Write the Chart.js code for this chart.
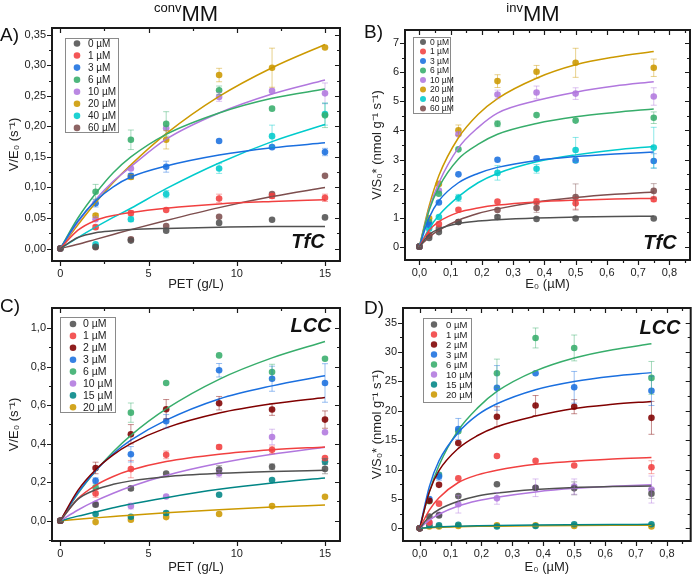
<!DOCTYPE html>
<html>
<head>
<meta charset="UTF-8">
<title>convMM / invMM</title>
<script src="https://cdn.jsdelivr.net/npm/chart.js@4.4.0/dist/chart.umd.min.js"></script>
<style>
  body { margin: 0; background: #fff; font-family: "Liberation Sans", Arial, sans-serif; }
  #wrap { position: relative; width: 694px; height: 575px; overflow: hidden; }
  canvas { position: absolute; }
  .lbl { position: absolute; color: #111; white-space: nowrap; line-height: 1; }
  .pan { font-size: 19px; }
  .ttl { font-size: 22px; transform: translateX(-50%); }
  .ttl sup { font-size: 13px; vertical-align: 9px; }
  .enz { font-size: 20px; font-weight: bold; font-style: italic; transform: translate(-50%, -50%); }
</style>
</head>
<body>
<div id="wrap">
  <canvas id="cA" width="344" height="292" style="left:3px;top:0px"></canvas>
  <canvas id="cB" width="328" height="292" style="left:366px;top:0px"></canvas>
  <canvas id="cC" width="344" height="285" style="left:3px;top:290px"></canvas>
  <canvas id="cD" width="328" height="285" style="left:366px;top:290px"></canvas>

  <div class="lbl ttl" style="left:186px;top:1px"><sup>conv</sup>MM</div>
  <div class="lbl ttl" style="left:533px;top:1px"><sup>inv</sup>MM</div>
  <div class="lbl pan" style="left:0px;top:25px">A)</div>
  <div class="lbl pan" style="left:364px;top:22px">B)</div>
  <div class="lbl pan" style="left:0px;top:296px">C)</div>
  <div class="lbl pan" style="left:364px;top:298px">D)</div>
  <div class="lbl enz" style="left:308px;top:241px">TfC</div>
  <div class="lbl enz" style="left:660px;top:242px">TfC</div>
  <div class="lbl enz" style="left:311px;top:325px">LCC</div>
  <div class="lbl enz" style="left:660px;top:327px">LCC</div>
</div>

<script>
// ---------- panel A : convMM, TfC ----------
const xA = [0, 2, 4, 6, 9, 12, 15];
const xFitA = [0, 1, 2, 3, 4, 6, 9, 12, 15];
const namesA = ['0 µM', '1 µM', '3 µM', '6 µM', '10 µM', '20 µM', '40 µM', '60 µM'];
const A_0 = [0, 0.003, 0.013, 0.029, 0.042, 0.047, 0.051];
const A_1 = [0, 0.035, 0.058, 0.063, 0.082, 0.086, 0.083];
const A_3 = [0, 0.074, 0.119, 0.134, 0.176, 0.166, 0.158];
const A_6 = [0, 0.093, 0.178, 0.204, 0.259, 0.229, 0.218];
const A_10 = [0, 0.048, 0.131, 0.197, 0.248, 0.258, 0.254];
const A_20 = [0, 0.054, 0.117, 0.178, 0.284, 0.296, 0.329];
const A_40 = [0, 0.007, 0.048, 0.089, 0.131, 0.184, 0.220];
const A_60 = [0, 0.002, 0.015, 0.037, 0.052, 0.089, 0.119];
const errA_0 = [0, 0, 0, 0, 0, 0, 0];
const errA_1 = [0, 0.003, 0.004, 0, 0.007, 0.004, 0.006];
const errA_3 = [0, 0.006, 0.004, 0.009, 0, 0, 0.006];
const errA_6 = [0, 0.012, 0.016, 0.02, 0.007, 0, 0.02];
const errA_10 = [0, 0, 0, 0, 0.007, 0, 0.017];
const errA_20 = [0, 0.003, 0.004, 0.015, 0.011, 0.032, 0];
const errA_40 = [0, 0, 0.004, 0.006, 0.008, 0.018, 0.018];
const errA_60 = [0, 0, 0.003, 0, 0, 0, 0];
const fitA_0 = [0, 0.018, 0.026, 0.029, 0.031, 0.033, 0.035, 0.036, 0.036];
const fitA_1 = [0, 0.030, 0.046, 0.054, 0.059, 0.066, 0.073, 0.077, 0.080];
const fitA_3 = [0, 0.045, 0.078, 0.101, 0.117, 0.135, 0.153, 0.165, 0.173];
const fitA_6 = [0, 0.050, 0.090, 0.124, 0.150, 0.187, 0.222, 0.246, 0.261];
const fitA_10 = [0, 0.043, 0.080, 0.110, 0.134, 0.179, 0.222, 0.253, 0.276];
const fitA_20 = [0, 0.039, 0.075, 0.108, 0.137, 0.188, 0.249, 0.296, 0.334];
const fitA_40 = [0, 0.018, 0.035, 0.051, 0.066, 0.098, 0.140, 0.175, 0.203];
const fitA_60 = [0, 0.007, 0.015, 0.023, 0.031, 0.046, 0.067, 0.085, 0.100];

// ---------- panel B : invMM, TfC ----------
const xB = [0, 0.03125, 0.0625, 0.125, 0.25, 0.375, 0.5, 0.75];
const xFitB = [0, 0.03125, 0.0625, 0.125, 0.1875, 0.25, 0.375, 0.5, 0.625, 0.75];
const B_0 = [0, 0.30, 0.50, 0.85, 1.02, 0.95, 0.97, 0.97];
const B_1 = [0, 0.40, 0.78, 1.27, 1.55, 1.55, 1.49, 1.63];
const B_3 = [0, 0.75, 1.52, 2.49, 2.99, 3.04, 2.97, 2.95];
const B_6 = [0, 0.85, 1.82, 3.35, 4.23, 4.53, 4.34, 4.44];
const B_10 = [0, 0.79, 1.93, 3.87, 5.24, 5.31, 5.27, 5.17];
const B_20 = [0, 0.98, 2.16, 4.01, 5.70, 6.02, 6.33, 6.16];
const B_40 = [0, 0.62, 1.02, 1.68, 2.54, 2.68, 3.33, 3.41];
const B_60 = [0, 0.38, 0.62, 0.85, 1.26, 1.33, 1.71, 1.92];
const errB_0 = [0, 0, 0, 0, 0.05, 0, 0, 0];
const errB_1 = [0, 0, 0, 0, 0, 0.1, 0.2, 0.08];
const errB_3 = [0, 0, 0, 0, 0, 0, 0, 0.25];
const errB_6 = [0, 0, 0, 0, 0.1, 0, 0, 0.2];
const errB_10 = [0, 0, 0, 0, 0.15, 0.22, 0.2, 0.3];
const errB_20 = [0, 0, 0, 0.18, 0.22, 0.22, 0.5, 0.3];
const errB_40 = [0, 0, 0, 0.12, 0.25, 0.15, 0.43, 0.7];
const errB_60 = [0, 0, 0, 0, 0, 0.15, 0.45, 0.25];
const fitB_0 = [0, 0.42, 0.61, 0.80, 0.88, 0.93, 0.99, 1.02, 1.04, 1.05];
const fitB_1 = [0, 0.56, 0.86, 1.18, 1.33, 1.43, 1.54, 1.60, 1.64, 1.66];
const fitB_3 = [0, 1.00, 1.58, 2.20, 2.52, 2.73, 2.97, 3.10, 3.19, 3.26];
const fitB_6 = [0, 1.25, 2.05, 3.02, 3.52, 3.87, 4.24, 4.47, 4.62, 4.74];
const fitB_10 = [0, 1.30, 2.20, 3.40, 4.10, 4.60, 5.03, 5.32, 5.53, 5.68];
const fitB_20 = [0, 1.40, 2.45, 3.75, 4.55, 5.10, 5.80, 6.26, 6.53, 6.72];
const fitB_40 = [0, 0.62, 1.08, 1.72, 2.20, 2.52, 2.92, 3.16, 3.33, 3.45];
const fitB_60 = [0, 0.33, 0.57, 0.91, 1.14, 1.30, 1.54, 1.69, 1.80, 1.88];

// ---------- panel C : convMM, LCC ----------
const namesC = ['0 µM', '1 µM', '2 µM', '3 µM', '6 µM', '10 µM', '15 µM', '20 µM'];
const C_0 = [0, 0.083, 0.168, 0.245, 0.266, 0.280, 0.269];
const C_1 = [0, 0.142, 0.268, 0.342, 0.383, 0.368, 0.325];
const C_2 = [0, 0.274, 0.449, 0.579, 0.610, 0.577, 0.525];
const C_3 = [0, 0.208, 0.345, 0.516, 0.781, 0.737, 0.715];
const C_6 = [0, 0.174, 0.561, 0.715, 0.858, 0.772, 0.841];
const C_10 = [0, 0.088, 0.076, 0.126, 0.247, 0.435, 0.459];
const C_15 = [0, 0.035, 0.021, 0.040, 0.135, 0.211, 0.307];
const C_20 = [0, -0.007, 0.005, 0.019, 0.035, 0.076, 0.124];
const errC_0 = [0, 0.01, 0.01, 0, 0.02, 0.015, 0.025];
const errC_1 = [0, 0.02, 0.045, 0.02, 0.01, 0.02, 0];
const errC_2 = [0, 0.03, 0.05, 0.05, 0.035, 0.03, 0.045];
const errC_3 = [0, 0.015, 0.04, 0.035, 0.035, 0.065, 0.1];
const errC_6 = [0, 0, 0.05, 0, 0, 0.04, 0];
const errC_10 = [0, 0, 0.015, 0, 0.02, 0.04, 0];
const errC_15 = [0, 0, 0, 0.01, 0, 0, 0.015];
const errC_20 = [0, 0, 0, 0, 0, 0, 0];
const fitC_0 = [0, 0.112, 0.161, 0.189, 0.207, 0.229, 0.246, 0.256, 0.262];
const fitC_1 = [0, 0.115, 0.184, 0.230, 0.263, 0.307, 0.345, 0.368, 0.383];
const fitC_2 = [0, 0.158, 0.265, 0.342, 0.400, 0.482, 0.559, 0.607, 0.640];
const fitC_3 = [0, 0.146, 0.260, 0.348, 0.418, 0.522, 0.632, 0.700, 0.752];
const fitC_6 = [0, 0.141, 0.258, 0.358, 0.443, 0.580, 0.734, 0.845, 0.930];
const fitC_10 = [0, 0.056, 0.103, 0.143, 0.178, 0.235, 0.298, 0.345, 0.381];
const fitC_15 = [0, 0.024, 0.046, 0.067, 0.087, 0.120, 0.163, 0.196, 0.222];
const fitC_20 = [0, 0.008, 0.015, 0.022, 0.029, 0.041, 0.057, 0.071, 0.082];

// ---------- panel D : invMM, LCC ----------
const D_0 = [0, 2.0, 2.2, 5.5, 7.5, 6.9, 6.8, 5.9];
const D_1 = [0, 1.0, 4.2, 8.5, 12.3, 11.5, 10.7, 10.4];
const D_2 = [0, 4.7, 7.4, 14.5, 19.0, 20.9, 20.7, 18.8];
const D_3 = [0, 5.0, 8.8, 16.9, 23.9, 26.4, 24.0, 23.4];
const D_6 = [0, 4.6, 9.1, 16.5, 26.4, 32.4, 30.7, 25.6];
const D_10 = [0, 1.0, 2.3, 4.1, 5.1, 6.9, 7.1, 6.6];
const D_15 = [0, 0.5, 0.5, 0.6, 0.3, 0.4, 0.7, 0.7];
const D_20 = [0, 0.3, 0.3, 0.4, 0.5, 0.5, 0.4, 0.3];
const errD_0 = [0, 0, 0, 0, 0, 0, 1.1, 0.8];
const errD_1 = [0, 0, 0, 0, 0, 0, 0, 1.1];
const errD_2 = [0, 0, 0, 0, 1.7, 1.7, 1.2, 2.8];
const errD_3 = [0, 0, 0.6, 1.8, 3.8, 0, 2.7, 2.5];
const errD_6 = [0, 0, 0, 0, 2.4, 1.7, 2.2, 2.8];
const errD_10 = [0, 0, 0, 1.5, 1.0, 1.5, 1.3, 2.3];
const errD_15 = [0, 0, 0, 0, 0, 0, 0, 0];
const errD_20 = [0, 0, 0, 0, 0, 0, 0, 0];
const fitD_0 = [0, 2.0, 3.2, 4.6, 5.5, 6.0, 6.6, 6.95, 7.1, 7.2];
const fitD_1 = [0, 3.1, 5.2, 7.8, 9.1, 9.9, 10.9, 11.4, 11.8, 12.05];
const fitD_2 = [0, 6.2, 9.8, 13.6, 15.8, 17.3, 19.1, 20.4, 21.1, 21.6];
const fitD_3 = [0, 7.1, 11.5, 16.3, 19.3, 21.2, 23.6, 25.0, 25.9, 26.5];
const fitD_6 = [0, 6.2, 10.7, 16.7, 20.5, 23.3, 26.8, 29.0, 30.4, 31.4];
const fitD_10 = [0, 1.4, 2.4, 3.8, 4.7, 5.3, 6.2, 6.8, 7.15, 7.4];
const fitD_15 = [0, 0.15, 0.25, 0.35, 0.42, 0.47, 0.55, 0.60, 0.64, 0.67];
const fitD_20 = [0, 0.10, 0.18, 0.27, 0.33, 0.37, 0.43, 0.47, 0.50, 0.52];

// ---------- ticks ----------
const ticksConvX = [0, 5, 10, 15];
const minorConvX = [2.5, 7.5, 12.5];
const ticksInvX = [0, 0.1, 0.2, 0.3, 0.4, 0.5, 0.6, 0.7, 0.8];
const minorInvX = [0.05, 0.15, 0.25, 0.35, 0.45, 0.55, 0.65, 0.75, 0.85];
const ticksAY = [0, 0.05, 0.1, 0.15, 0.2, 0.25, 0.3, 0.35];
const minorAY = [0.025, 0.075, 0.125, 0.175, 0.225, 0.275, 0.325];
const ticksBY = [0, 1, 2, 3, 4, 5, 6, 7];
const minorBY = [0.5, 1.5, 2.5, 3.5, 4.5, 5.5, 6.5];
const ticksCY = [0, 0.2, 0.4, 0.6, 0.8, 1.0];
const minorCY = [-0.1, 0.1, 0.3, 0.5, 0.7, 0.9];
const ticksDY = [0, 5, 10, 15, 20, 25, 30, 35];
const minorDY = [2.5, 7.5, 12.5, 17.5, 22.5, 27.5, 32.5];

const labConvX = ['0', '5', '10', '15'];
const labInvX = ['0,0', '0,1', '0,2', '0,3', '0,4', '0,5', '0,6', '0,7', '0,8'];
const labAY = ['0,00', '0,05', '0,10', '0,15', '0,20', '0,25', '0,30', '0,35'];
const labBY = ['0', '1', '2', '3', '4', '5', '6', '7'];
const labCY = ['0,0', '0,2', '0,4', '0,6', '0,8', '1,0'];
const labDY = ['0', '5', '10', '15', '20', '25', '30', '35'];

const gray = '#515151', red = '#f14040', blue = '#1a6fdf', green = '#37ad6b',
      purple = '#b177de', gold = '#cc9900', cyan = '#00cbcc', brown = '#7d4e4e',
      darkred = '#800000', teal = '#008585';
const colorsA = [gray, red, blue, green, purple, gold, cyan, brown];
const colorsC = [gray, red, darkred, blue, green, purple, teal, gold];

function alpha(hex, a) {
  const n = parseInt(hex.slice(1), 16);
  return `rgba(${n >> 16},${(n >> 8) & 255},${n & 255},${a})`;
}

function makeSets(xs, xFit, series, errs, fits, colors, names) {
  const sets = [];
  fits.forEach((f, i) => sets.push({
    type: 'line', data: xFit.map((x, j) => ({x: x, y: f[j]})),
    borderColor: colors[i], borderWidth: 1.5, pointRadius: 0,
    cubicInterpolationMode: 'monotone', fill: false
  }));
  series.forEach((s, i) => sets.push({
    type: 'scatter', label: names[i], inLegend: true, err: errs[i],
    data: xs.map((x, j) => ({x: x, y: s[j]})),
    backgroundColor: alpha(colors[i], 0.88), borderWidth: 0,
    pointRadius: 3.3, pointHoverRadius: 3.3
  }));
  return sets;
}

// error bars, drawn with the y scale
const errPlugin = {
  id: 'errbars',
  afterDatasetsDraw(chart) {
    const ctx = chart.ctx, ys = chart.scales.y;
    ctx.save();
    chart.data.datasets.forEach((ds, di) => {
      if (!ds.err) return;
      const meta = chart.getDatasetMeta(di);
      ctx.strokeStyle = ds.backgroundColor.replace(/[\d.]+\)$/, '0.45)');
      ctx.lineWidth = 1;
      ds.data.forEach((p, i) => {
        const e = ds.err[i];
        if (!e) return;
        const x = meta.data[i].x;
        const y1 = ys.getPixelForValue(p.y + e), y2 = ys.getPixelForValue(p.y - e);
        ctx.beginPath();
        ctx.moveTo(x, y1); ctx.lineTo(x, y2);
        ctx.moveTo(x - 3, y1); ctx.lineTo(x + 3, y1);
        ctx.moveTo(x - 3, y2); ctx.lineTo(x + 3, y2);
        ctx.stroke();
      });
    });
    ctx.restore();
  }
};

// frame with Origin-like ticks and boxed legend
const framePlugin = {
  id: 'frame',
  afterDraw(chart, args, o) {
    const ctx = chart.ctx, ca = chart.chartArea;
    const xs = chart.scales.x, ys = chart.scales.y;
    ctx.save();
    ctx.strokeStyle = '#1a1a1a';
    ctx.lineWidth = 1.2;
    ctx.beginPath();
    const tx = (vals, len) => vals.forEach(v => {
      const p = Math.round(xs.getPixelForValue(v)) + 0.5;
      ctx.moveTo(p, ca.bottom); ctx.lineTo(p, ca.bottom + len);
      ctx.moveTo(p, ca.top); ctx.lineTo(p, ca.top + len);
    });
    const ty = (vals, len) => vals.forEach(v => {
      const p = Math.round(ys.getPixelForValue(v)) + 0.5;
      ctx.moveTo(ca.left, p); ctx.lineTo(ca.left - len, p);
      ctx.moveTo(ca.right, p); ctx.lineTo(ca.right - len, p);
    });
    tx(o.mx, 5); tx(o.nx, 3); ty(o.my, 5); ty(o.ny, 3);
    ctx.stroke();
    ctx.lineWidth = 2;
    ctx.strokeRect(ca.left, ca.top, ca.right - ca.left, ca.bottom - ca.top);

    // legend box
    const L = o.legend;
    const bx = ca.left + L.left, by = ca.top + L.top;
    ctx.fillStyle = '#fff';
    ctx.fillRect(bx, by, L.w, L.h);
    ctx.strokeStyle = '#8a8a8a';
    ctx.lineWidth = 1;
    ctx.strokeRect(bx + 0.5, by + 0.5, L.w, L.h);
    ctx.font = L.size + 'px "Liberation Sans", Arial, sans-serif';
    ctx.textBaseline = 'middle';
    let k = 0;
    chart.data.datasets.forEach(ds => {
      if (!ds.inLegend) return;
      const cy = by + L.first + k * L.row;
      ctx.fillStyle = ds.backgroundColor;
      ctx.beginPath();
      ctx.arc(bx + L.mx, cy, L.r, 0, Math.PI * 2);
      ctx.fill();
      ctx.fillStyle = '#222';
      ctx.fillText(ds.label, bx + L.tx, cy + 0.5);
      k++;
    });
    ctx.restore();
  }
};

function panel(id, sets, xr, yr, xTicks, xLab, yTicks, yLab, xTitle, yTitle, box, frame) {
  new Chart(document.getElementById(id), {
    type: 'scatter',
    data: {datasets: sets},
    options: {
      responsive: false, animation: false, devicePixelRatio: 1,
      layout: {padding: {left: 0, top: box.top, right: box.right, bottom: 0}},
      plugins: {legend: {display: false}, tooltip: {enabled: false}, frame: frame},
      scales: {
        x: {
          type: 'linear', min: xr[0], max: xr[1],
          grid: {display: false, drawTicks: false}, border: {display: false},
          afterBuildTicks: s => { s.ticks = xTicks.map(v => ({value: v})); },
          afterFit: s => { s.height = box.xh; },
          ticks: {padding: 6, color: '#222', font: {size: 11, family: '"Liberation Sans", Arial'},
                  maxRotation: 0, autoSkip: false, callback: (v, i) => xLab[i]},
          title: {display: true, text: xTitle, color: '#222', padding: {top: 2, bottom: 0},
                  font: {size: 13, family: '"Liberation Sans", Arial'}}
        },
        y: {
          type: 'linear', min: yr[0], max: yr[1],
          grid: {display: false, drawTicks: false}, border: {display: false},
          afterBuildTicks: s => { s.ticks = yTicks.map(v => ({value: v})); },
          afterFit: s => { s.width = box.yw; },
          ticks: {padding: 6, color: '#222', font: {size: 11, family: '"Liberation Sans", Arial'},
                  autoSkip: false, callback: (v, i) => yLab[i]},
          title: {display: true, text: yTitle, color: '#222', padding: {top: 4, bottom: 4},
                  font: {size: 13, family: '"Liberation Sans", Arial'}}
        }
      }
    },
    plugins: [errPlugin, framePlugin]
  });
}

panel('cA',
  makeSets(xA, xFitA, [A_0, A_1, A_3, A_6, A_10, A_20, A_40, A_60],
           [errA_0, errA_1, errA_3, errA_6, errA_10, errA_20, errA_40, errA_60],
           [fitA_0, fitA_1, fitA_3, fitA_6, fitA_10, fitA_20, fitA_40, fitA_60], colorsA, namesA),
  [-0.47, 15.85], [-0.0204, 0.361], ticksConvX, labConvX, ticksAY, labAY,
  'PET (g/L)', 'V/E₀ (s⁻¹)',
  {top: 28, right: 7, xh: 31, yw: 49},
  {mx: ticksConvX, nx: minorConvX, my: ticksAY, ny: minorAY,
   legend: {left: 13, top: 10, w: 53, h: 94, first: 5.5, row: 12.06, mx: 12, tx: 23, r: 3.3, size: 10}});

panel('cB',
  makeSets(xB, xFitB, [B_0, B_1, B_3, B_6, B_10, B_20, B_40, B_60],
           [errB_0, errB_1, errB_3, errB_6, errB_10, errB_20, errB_40, errB_60],
           [fitB_0, fitB_1, fitB_3, fitB_6, fitB_10, fitB_20, fitB_40, fitB_60], colorsA, namesA),
  [-0.046, 0.866], [-0.46, 7.46], ticksInvX, labInvX, ticksBY, labBY,
  'E₀ (µM)', 'V/S₀* (nmol g⁻¹ s⁻¹)',
  {top: 30, right: 4, xh: 32, yw: 39},
  {mx: ticksInvX, nx: minorInvX, my: ticksBY, ny: minorBY,
   legend: {left: 8, top: 7, w: 37, h: 76, first: 5, row: 9.5, mx: 10, tx: 17, r: 3, size: 8.5}});

panel('cC',
  makeSets(xA, xFitA, [C_0, C_1, C_2, C_3, C_6, C_10, C_15, C_20],
           [errC_0, errC_1, errC_2, errC_3, errC_6, errC_10, errC_15, errC_20],
           [fitC_0, fitC_1, fitC_2, fitC_3, fitC_6, fitC_10, fitC_15, fitC_20], colorsC, namesC),
  [-0.47, 15.85], [-0.105, 1.104], ticksConvX, labConvX, ticksCY, labCY,
  'PET (g/L)', 'V/E₀ (s⁻¹)',
  {top: 18, right: 7, xh: 34, yw: 49},
  {mx: ticksConvX, nx: minorConvX, my: ticksCY, ny: minorCY,
   legend: {left: 8, top: 9, w: 55, h: 95, first: 7, row: 11.9, mx: 13, tx: 23, r: 3.3, size: 10.5}});

panel('cD',
  makeSets(xB, xFitB, [D_0, D_1, D_2, D_3, D_6, D_10, D_15, D_20],
           [errD_0, errD_1, errD_2, errD_3, errD_6, errD_10, errD_15, errD_20],
           [fitD_0, fitD_1, fitD_2, fitD_3, fitD_6, fitD_10, fitD_15, fitD_20], colorsC, namesC),
  [-0.054, 0.877], [-2.16, 37.5], ticksInvX, labInvX, ticksDY, labDY,
  'E₀ (µM)', 'V/S₀* (nmol g⁻¹ s⁻¹)',
  {top: 18, right: 2, xh: 34, yw: 37},
  {mx: ticksInvX, nx: minorInvX, my: ticksDY, ny: minorDY,
   legend: {left: 20, top: 10, w: 48, h: 84, first: 6.5, row: 10, mx: 11, tx: 23, r: 3.2, size: 9.5}});
</script>
</body>
</html>
